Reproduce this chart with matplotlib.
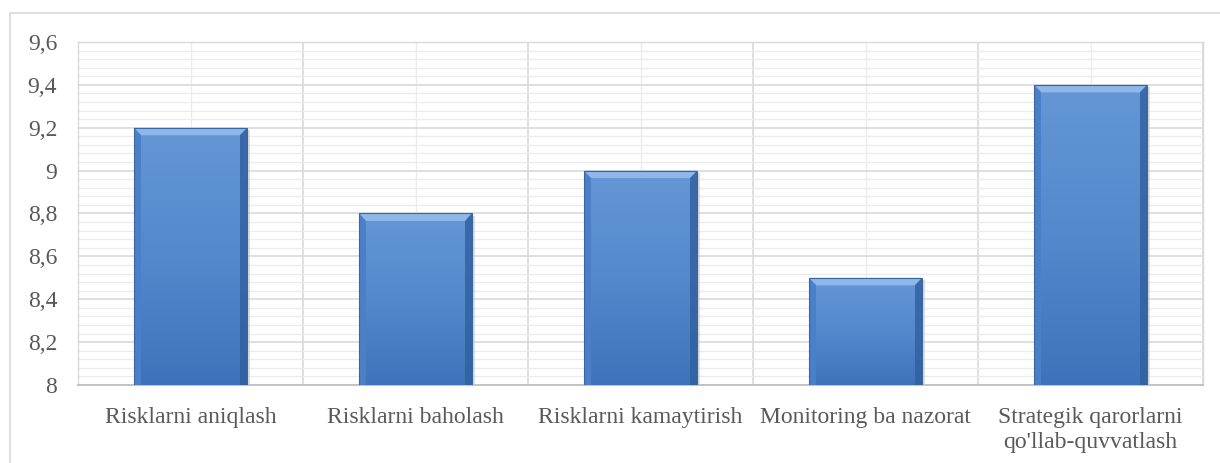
import matplotlib
matplotlib.use("Agg")
import matplotlib.pyplot as plt
import numpy as np
from matplotlib.patches import Rectangle, Polygon
from matplotlib.ticker import MultipleLocator, FixedLocator
from matplotlib.colors import LinearSegmentedColormap

categories = ["Risklarni aniqlash", "Risklarni baholash", "Risklarni kamaytirish",
              "Monitoring ba nazorat", "Strategik qarorlarni\nqo'llab-quvvatlash"]
values = [9.2, 8.8, 9.0, 8.5, 9.4]
y_ticks = [8, 8.2, 8.4, 8.6, 8.8, 9, 9.2, 9.4, 9.6]
y_tick_labels = ["8", "8,2", "8,4", "8,6", "8,8", "9", "9,2", "9,4", "9,6"]

plt.rcParams['font.family'] = ['Liberation Serif', 'DejaVu Serif']
text_color = "#595959"

fig = plt.figure(figsize=(12.2, 4.63), dpi=100)
fig.patch.set_facecolor("white")
# outer chart frame
fig.add_artist(Rectangle((10/1220, -0.01), 1.2, 1 - 13/463 + 0.01, transform=fig.transFigure,
                         fill=False, edgecolor="#d9d9d9", linewidth=1.2))

ax = fig.add_axes([78/1220, 1 - 385/463, (1203 - 78)/1220, (385 - 42)/463])
ax.set_xlim(-0.5, len(categories) - 0.5)
ax.set_ylim(8, 9.6)

# grid
ax.yaxis.set_major_locator(FixedLocator(y_ticks))
ax.yaxis.set_minor_locator(MultipleLocator(0.04))
ax.xaxis.set_major_locator(FixedLocator(np.arange(len(categories))))
ax.xaxis.set_minor_locator(FixedLocator(np.arange(len(categories) + 1) - 0.5))
ax.grid(which="major", axis="y", color="#d9d9d9", linewidth=1.2, zorder=0)
ax.grid(which="minor", axis="y", color="#ececec", linewidth=1.0, zorder=0)
ax.grid(which="minor", axis="x", color="#d9d9d9", linewidth=1.2, zorder=0)
ax.grid(which="major", axis="x", color="#ececec", linewidth=1.0, zorder=0)
ax.set_axisbelow(True)

for s in ["top", "right", "left"]:
    ax.spines[s].set_color("#d9d9d9")
    ax.spines[s].set_linewidth(1.0)
ax.spines["bottom"].set_color("#bfbfbf")
ax.spines["bottom"].set_linewidth(1.3)

ax.set_yticklabels(y_tick_labels)
ax.set_xticks(np.arange(len(categories)))
ax.set_xticklabels(categories)
ax.tick_params(axis="both", which="both", length=0, labelcolor=text_color, labelsize=17)
ax.tick_params(axis="y", pad=15)
ax.tick_params(axis="x", pad=16)
for lbl in ax.get_xticklabels():
    lbl.set_linespacing(1.22)

x = np.arange(len(categories))
width = 0.5
bars = ax.bar(x, [v - 8 for v in values], width=width, bottom=8, color="#4f81c4",
              edgecolor="none", zorder=3)

# gradient fill
grad = np.linspace(0, 1, 256).reshape(-1, 1)
cmap = LinearSegmentedColormap.from_list("g", ["#3e73bb", "#5588cc", "#6597d6"])
for b in bars:
    x0, y0 = b.get_x(), b.get_y()
    w, h = b.get_width(), b.get_height()
    im = ax.imshow(grad, extent=(x0, x0 + w, y0, y0 + h), origin="lower", cmap=cmap,
                   aspect="auto", zorder=3.1)
    im.set_clip_path(b)
    # bevel
    bx = 0.028
    by = 0.035
    top = y0 + h
    ax.add_patch(Polygon([(x0, top), (x0 + w, top), (x0 + w - bx, top - by), (x0 + bx, top - by)],
                         closed=True, facecolor="#8fb8ea", edgecolor="none", zorder=3.3))
    ax.add_patch(Polygon([(x0 + w, top), (x0 + w, y0), (x0 + w - bx, y0), (x0 + w - bx, top - by)],
                         closed=True, facecolor="#2f5f9e", edgecolor="none", alpha=0.8, zorder=3.3))
    ax.add_patch(Polygon([(x0, top), (x0, y0), (x0 + bx, y0), (x0 + bx, top - by)],
                         closed=True, facecolor="#4a80c8", edgecolor="none", zorder=3.3))
    # outline
    ax.add_patch(Rectangle((x0, y0), w, h, fill=False, edgecolor="#3a669f", linewidth=0.8, zorder=3.4))
    # shadow on right
    ax.add_patch(Rectangle((x0 + w, y0), 0.014, h - 0.01, facecolor="#c8c8c8", edgecolor="none",
                           alpha=0.6, zorder=2.9))

ax.set_xlim(-0.5, len(categories) - 0.5)
ax.set_ylim(8, 9.6)

fig.savefig("out.png", dpi=100, facecolor="white")
